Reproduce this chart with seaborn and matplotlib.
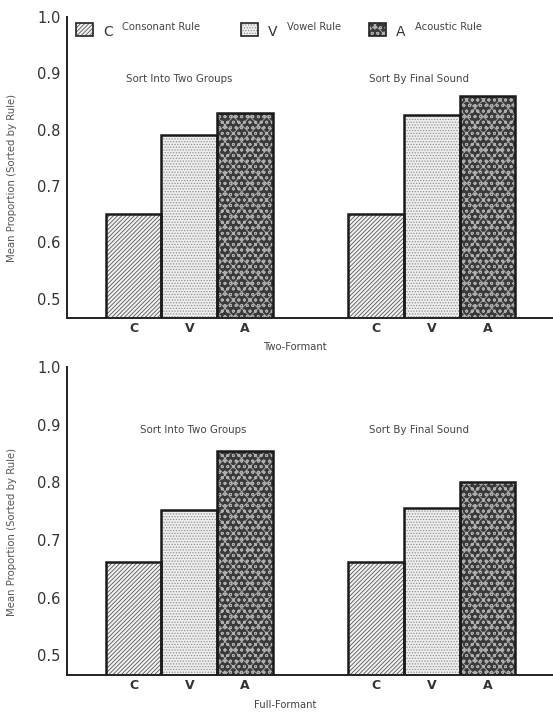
import pandas as pd
import matplotlib.pyplot as plt
import seaborn as sns
from matplotlib.patches import Rectangle

# datos
reglas = ["C", "V", "A"]
nombres_reglas = ["Consonant Rule", "Vowel Rule", "Acoustic Rule"]
tareas = ["Sort Into Two Groups", "Sort By Final Sound"]
dos_formantes_dos_grupos = [0.650, 0.790, 0.830]
dos_formantes_sonido_final = [0.650, 0.826, 0.860]
completo_dos_grupos = [0.662, 0.752, 0.855]
completo_sonido_final = [0.662, 0.755, 0.800]
y_ticks = [0.5, 0.6, 0.7, 0.8, 0.9, 1.0]
y_tick_labels = ["0.5", "0.6", "0.7", "0.8", "0.9", "1.0"]

# estilo de relleno por regla: (fondo, hatch, color del hatch)
estilos = {
    "C": ("#f2f2f2", "////////", "#555555"),
    "V": ("#eeeeee", "......", "#8f8f8f"),
    "A": ("#3a3a3a", "oooxx", "#b0b0b0"),
}

sns.set_style("white")
plt.rcParams["font.family"] = ["DejaVu Sans"]
plt.rcParams["hatch.linewidth"] = 0.6


def armar_df(dos_grupos, sonido_final):
    filas = []
    for tarea, vals in zip(tareas, [dos_grupos, sonido_final]):
        for r, v in zip(reglas, vals):
            filas.append({"tarea": tarea, "regla": r, "valor": v})
    return pd.DataFrame(filas)


def panel(ax, df, nombre, x_titulos, x_nombre):
    sns.barplot(data=df, x="tarea", y="valor", hue="regla", order=tareas,
                hue_order=reglas, width=0.69, palette=["#888"] * 3,
                legend=False, ax=ax)
    centros, etiquetas = [], []
    for regla, cont in zip(reglas, ax.containers):
        fondo, hatch, col_hatch = estilos[regla]
        for p in cont:
            p.set_facecolor(fondo)
            p.set_hatch(hatch)
            p.set_edgecolor(col_hatch)
            p.set_linewidth(0)
            ax.add_patch(Rectangle((p.get_x(), p.get_y()), p.get_width(),
                                   p.get_height(), fill=False,
                                   edgecolor="#1a1a1a", linewidth=1.8,
                                   zorder=3))
            centros.append(p.get_x() + p.get_width() / 2)
            etiquetas.append(regla)
    ax.set_xlim(-0.505, 1.5)
    ax.set_ylim(0.466, 1.0)
    ax.set_xticks(centros)
    ax.set_xticklabels(etiquetas, fontsize=9, fontweight="bold", color="#333")
    ax.tick_params(axis="x", length=0, pad=3)
    ax.set_yticks(y_ticks)
    ax.set_yticklabels(y_tick_labels, fontsize=10.5, color="#333")
    ax.tick_params(axis="y", length=3, width=1, direction="out", pad=1.5,
                   color="#222")
    ax.set_xlabel("")
    ax.set_ylabel("Mean Proportion (Sorted by Rule)", fontsize=7.3,
                  color="#555")
    ax.yaxis.set_label_coords(-0.103, 0.465)
    for s in ["top", "right"]:
        ax.spines[s].set_visible(False)
    for s in ["left", "bottom"]:
        ax.spines[s].set_linewidth(1.4)
        ax.spines[s].set_color("#222")
    for xt, tarea in zip(x_titulos, tareas):
        ax.text(xt, 0.89, tarea, ha="center", va="center", fontsize=7.4,
                color="#444")
    ax.text(x_nombre, -0.097, nombre, transform=ax.transAxes, ha="center",
            va="center", fontsize=7.2, color="#444")


fig = plt.figure(figsize=(5.53, 7.12), dpi=100)
ax1 = fig.add_axes([0.121, 0.5534, 0.879, 0.4228])
ax2 = fig.add_axes([0.121, 0.052, 0.879, 0.4326])

panel(ax1, armar_df(dos_formantes_dos_grupos, dos_formantes_sonido_final),
      "Two-Formant", [-0.043, 0.947], 0.469)
panel(ax2, armar_df(completo_dos_grupos, completo_sonido_final),
      "Full-Formant", [0.015, 0.947], 0.449)

# leyenda hecha a mano arriba
x_cajas = [76, 241, 369]
for regla, nombre, xc in zip(reglas, nombres_reglas, x_cajas):
    fondo, hatch, col_hatch = estilos[regla]
    caja = Rectangle((xc / 553, 1 - 36 / 712), 17 / 553, 13 / 712,
                     transform=fig.transFigure, facecolor=fondo, hatch=hatch,
                     edgecolor=col_hatch, linewidth=0)
    fig.add_artist(caja)
    fig.add_artist(Rectangle((xc / 553, 1 - 36 / 712), 17 / 553, 13 / 712,
                             transform=fig.transFigure, fill=False,
                             edgecolor="#222", linewidth=1.2))
    fig.text((xc + 32) / 553, 1 - 32 / 712, regla, fontsize=10,
             color="#333", ha="center", va="center")
    fig.text((xc + 46) / 553, 1 - 27 / 712, nombre, fontsize=7.2,
             color="#444", ha="left", va="center")

fig.savefig("out.png", dpi=100)
